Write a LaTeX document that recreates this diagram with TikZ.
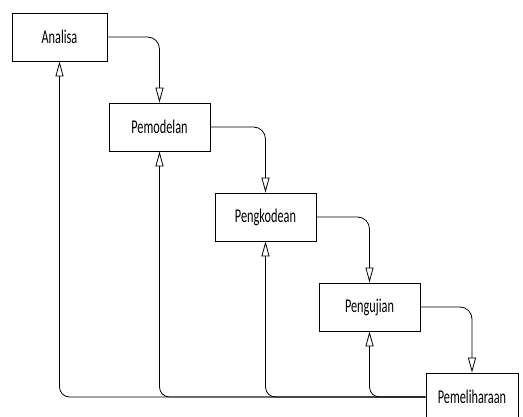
\documentclass[tikz,border=0pt]{standalone}
\usepackage{fontspec}
\setmainfont{Carlito}
\newfontfamily\labelfont[FakeStretch=0.63]{Carlito}
\usetikzlibrary{arrows.meta}
\begin{document}
\begin{tikzpicture}[x=1pt,y=-1pt,
  phase/.style={draw=black, line width=0.8pt, fill=white, inner sep=0pt,
    minimum height=48pt, font=\labelfont\fontsize{19.5}{22}\selectfont},
  flow/.style={draw=black, line width=0.8pt, rounded corners=12pt,
    -{Triangle[open, length=15pt, width=8pt]}},
  back/.style={draw=black, line width=0.8pt, rounded corners=10pt,
    -{Triangle[open, length=15pt, width=8pt]}}]
  \useasboundingbox (0,0) rectangle (523,417);

  % waterfall phases
  \node[phase, minimum width=95pt]  (ana) at (59.5,37)  {Analisa};
  \node[phase, minimum width=101pt] (pmd) at (159.5,127) {Pemodelan};
  \node[phase, minimum width=101pt] (pkd) at (265.5,217) {Pengkodean};
  \node[phase, minimum width=101pt] (pgj) at (369.5,307) {Pengujian};
  \node[phase, minimum width=92pt]  (pml) at (472,397)   {Pemeliharaan};

  % forward flow
  \draw[flow] (ana.east) -| (pmd.north);
  \draw[flow] (pmd.east) -| (pkd.north);
  \draw[flow] (pkd.east) -| (pgj.north);
  \draw[flow] (pgj.east) -| (pml.north);

  % feedback from maintenance to every phase
  \draw[back] (pml.west) -| (ana.south);
  \draw[back] (pml.west) -| (pmd.south);
  \draw[back] (pml.west) -| (pkd.south);
  \draw[back] (pml.west) -| (pgj.south);
\end{tikzpicture}
\end{document}
